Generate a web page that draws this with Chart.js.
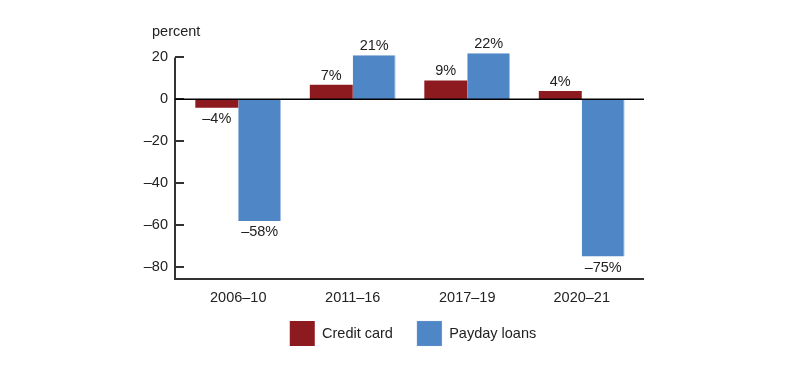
<!DOCTYPE html>
<html>
<head>
<meta charset="utf-8">
<script src="https://cdn.jsdelivr.net/npm/chart.js@4"></script>
<style>
  html, body { margin: 0; padding: 0; background: #fff; }
</style>
</head>
<body>
<canvas id="miGrafico" width="800" height="372"></canvas>
<script>
// Datos del gráfico (cambio porcentual)
const periodos = ['2006–10', '2011–16', '2017–19', '2020–21'];
const tarjetaCredito = [-4, 7, 9, 4];
const prestamosPayday = [-58, 21, 22, -75];
const ticksY = [-80, -60, -40, -20, 0, 20];

const FUENTE = '"Liberation Sans", Arial, sans-serif';
const TAM = 14.5;
const COLOR_TEXTO = '#222';

// texto con guion largo para negativos
const fmt = v => (v < 0 ? '\u2013' + Math.abs(v) : String(v));

// Dibuja ejes, línea del cero, etiquetas de barras y el "percent"
const extras = {
  id: 'extras',
  afterLayout(chart) {
    // subimos la leyenda para que quede cerca del eje
    const l = chart.legend;
    const h = l.bottom - l.top;
    l.top = 297;
    l.bottom = 297 + h;
    l.left += 3;
    l.right += 3;
  },
  afterDatasetsDraw(chart) {
    const ctx = chart.ctx;
    const area = chart.chartArea;
    const y = chart.scales.y;
    const izq = area.left - 6;
    const der = area.right + 5;

    ctx.save();
    // eje y y marcas
    ctx.strokeStyle = '#333';
    ctx.lineWidth = 2;
    ctx.beginPath();
    ctx.moveTo(izq, y.getPixelForValue(20));
    ctx.lineTo(izq, area.bottom);
    ticksY.forEach(v => {
      const py = Math.round(y.getPixelForValue(v));
      ctx.moveTo(izq, py);
      ctx.lineTo(izq + 9, py);
    });
    // eje x inferior
    ctx.moveTo(izq - 1, area.bottom);
    ctx.lineTo(der, area.bottom);
    ctx.stroke();

    // línea del cero
    ctx.strokeStyle = '#000';
    ctx.lineWidth = 1.5;
    ctx.beginPath();
    const y0 = y.getPixelForValue(0);
    ctx.moveTo(izq, y0);
    ctx.lineTo(der, y0);
    ctx.stroke();

    // etiquetas de valores
    ctx.font = TAM + 'px ' + FUENTE;
    ctx.fillStyle = COLOR_TEXTO;
    ctx.textAlign = 'center';
    ctx.textBaseline = 'alphabetic';
    chart.data.datasets.forEach((ds, i) => {
      chart.getDatasetMeta(i).data.forEach((bar, j) => {
        const v = ds.data[j];
        const ty = v >= 0 ? bar.y - 5 : bar.y + 15;
        ctx.fillText(fmt(v) + '%', bar.x, ty);
      });
    });

    // título del eje
    ctx.textAlign = 'left';
    ctx.fillText('percent', 152, 36);
    ctx.restore();
  }
};

let ctx = document.getElementById('miGrafico').getContext('2d');

let datos = {
  labels: periodos,
  datasets: [{
    label: 'Credit card',
    data: tarjetaCredito,
    backgroundColor: '#8c1a1f',
    borderWidth: 0
  }, {
    label: 'Payday loans',
    data: prestamosPayday,
    backgroundColor: '#4f86c6',
    borderColor: '#a9c6e8',
    borderWidth: { right: 1, left: 0, top: 0, bottom: 0 },
    borderSkipped: false
  }]
};

let config = {
  type: 'bar',
  data: datos,
  options: {
    responsive: false,
    devicePixelRatio: 1,
    animation: false,
    layout: { padding: { left: 40, right: 161, top: 49, bottom: 2 } },
    datasets: {
      bar: { categoryPercentage: 0.75, barPercentage: 1 }
    },
    scales: {
      x: {
        grid: { display: false, drawTicks: false },
        border: { display: false },
        ticks: {
          color: COLOR_TEXTO,
          font: { family: FUENTE, size: TAM },
          padding: 10,
          maxRotation: 0
        },
        afterFit: s => { s.height = 32; }
      },
      y: {
        min: -85.7,
        max: 24,
        grid: { display: false, drawTicks: false },
        border: { display: false },
        afterBuildTicks: s => { s.ticks = ticksY.map(v => ({ value: v })); },
        afterFit: s => { s.width = 141; },
        ticks: {
          color: COLOR_TEXTO,
          font: { family: FUENTE, size: TAM },
          padding: 13,
          callback: v => fmt(v)
        }
      }
    },
    plugins: {
      legend: {
        position: 'bottom',
        fullSize: false,
        labels: {
          boxWidth: 25,
          boxHeight: 25,
          padding: 24,
          color: COLOR_TEXTO,
          font: { family: FUENTE, size: TAM }
        }
      },
      tooltip: { enabled: false }
    }
  },
  plugins: [extras]
};

new Chart(ctx, config);
</script>
</body>
</html>
